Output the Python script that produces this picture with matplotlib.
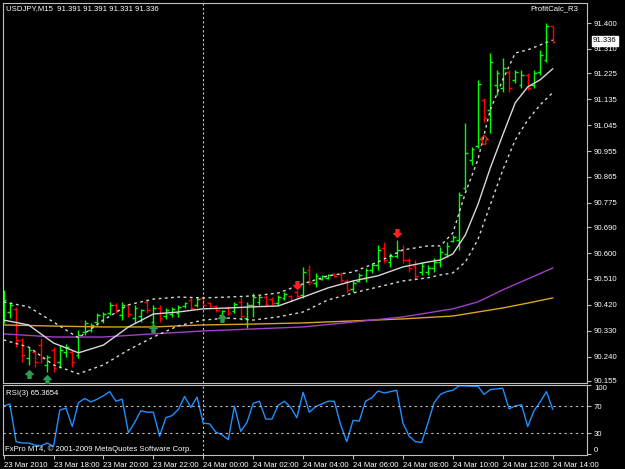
import matplotlib
matplotlib.use("Agg")
import matplotlib.pyplot as plt
from matplotlib.path import Path

# USDJPY M15 bars, 23 Mar 2010 16:00 -> 24 Mar 2010 14:00
opens = [
    90.384, 90.395, 90.405, 90.297, 90.235, 90.256, 90.280, 90.211, 90.263, 90.221,
    90.256, 90.256, 90.245, 90.325, 90.332, 90.360, 90.367, 90.391, 90.419, 90.384,
    90.419, 90.374, 90.381, 90.430, 90.360, 90.409, 90.381, 90.388, 90.391, 90.416,
    90.437, 90.419, 90.444, 90.426, 90.416, 90.384, 90.409, 90.398, 90.430, 90.374,
    90.419, 90.430, 90.447, 90.440, 90.426, 90.444, 90.451, 90.465, 90.454, 90.541,
    90.496, 90.510, 90.514, 90.527, 90.527, 90.503, 90.475, 90.503, 90.514, 90.541,
    90.559, 90.618, 90.569, 90.590, 90.611, 90.576, 90.555, 90.534, 90.534, 90.548,
    90.569, 90.597, 90.642, 90.646, 90.827, 90.924, 90.973, 91.133, 91.098, 91.185,
    91.175, 91.231, 91.203, 91.185, 91.220, 91.185, 91.231, 91.272, 91.391]
highs = [
    90.472, 90.430, 90.412, 90.304, 90.273, 90.263, 90.304, 90.245, 90.273, 90.280,
    90.284, 90.263, 90.332, 90.367, 90.357, 90.391, 90.395, 90.430, 90.426, 90.430,
    90.419, 90.419, 90.405, 90.437, 90.419, 90.419, 90.409, 90.412, 90.419, 90.430,
    90.444, 90.447, 90.451, 90.430, 90.419, 90.402, 90.416, 90.430, 90.447, 90.430,
    90.461, 90.454, 90.454, 90.447, 90.454, 90.465, 90.454, 90.472, 90.552, 90.559,
    90.531, 90.524, 90.527, 90.531, 90.534, 90.510, 90.507, 90.531, 90.548, 90.566,
    90.628, 90.639, 90.601, 90.646, 90.628, 90.583, 90.576, 90.569, 90.559, 90.583,
    90.621, 90.639, 90.663, 90.813, 91.053, 90.969, 91.203, 91.140, 91.296, 91.238,
    91.279, 91.238, 91.238, 91.238, 91.227, 91.238, 91.307, 91.400, 91.391]
lows = [
    90.357, 90.374, 90.273, 90.221, 90.211, 90.204, 90.218, 90.186, 90.186, 90.200,
    90.238, 90.204, 90.235, 90.315, 90.325, 90.350, 90.357, 90.384, 90.391, 90.367,
    90.377, 90.357, 90.360, 90.391, 90.322, 90.360, 90.370, 90.377, 90.377, 90.409,
    90.402, 90.412, 90.412, 90.412, 90.395, 90.377, 90.384, 90.391, 90.367, 90.339,
    90.377, 90.419, 90.412, 90.419, 90.419, 90.437, 90.430, 90.444, 90.444, 90.489,
    90.482, 90.507, 90.510, 90.517, 90.500, 90.465, 90.465, 90.500, 90.500, 90.531,
    90.541, 90.566, 90.552, 90.583, 90.566, 90.534, 90.507, 90.524, 90.524, 90.534,
    90.552, 90.587, 90.639, 90.611, 90.820, 90.907, 90.966, 91.056, 91.018, 91.150,
    91.161, 91.161, 91.192, 91.175, 91.168, 91.175, 91.220, 91.265, 91.331]
closes = [
    90.437, 90.419, 90.297, 90.245, 90.263, 90.221, 90.235, 90.238, 90.200, 90.263,
    90.273, 90.221, 90.315, 90.357, 90.350, 90.384, 90.388, 90.419, 90.402, 90.419,
    90.388, 90.409, 90.402, 90.402, 90.409, 90.374, 90.402, 90.405, 90.412, 90.426,
    90.409, 90.440, 90.419, 90.416, 90.402, 90.398, 90.391, 90.423, 90.381, 90.419,
    90.447, 90.447, 90.423, 90.426, 90.447, 90.458, 90.437, 90.451, 90.534, 90.500,
    90.521, 90.521, 90.524, 90.521, 90.507, 90.472, 90.496, 90.524, 90.541, 90.559,
    90.611, 90.576, 90.590, 90.611, 90.576, 90.548, 90.521, 90.555, 90.548, 90.569,
    90.604, 90.625, 90.656, 90.802, 90.949, 90.962, 91.189, 91.070, 91.265, 91.227,
    91.245, 91.175, 91.231, 91.220, 91.175, 91.227, 91.290, 91.391, 91.336]

rsi = [
    70, 73, 18, 16, 16, 13, 12, 16, 11, 64,
    67, 40, 75, 81, 76, 80, 85, 91, 77, 80,
    31, 46, 63, 61, 61, 26, 53, 56, 65, 84,
    68, 83, 45, 44, 32, 28, 21, 70, 33, 46,
    74, 77, 51, 51, 71, 77, 68, 53, 90, 61,
    69, 73, 77, 77, 43, 18, 49, 48, 77, 82,
    92, 89, 91, 93, 45, 26, 18, 17, 45, 75,
    87, 91, 93, 99.5, 99.5, 99, 99, 87, 94, 95,
    96, 66, 70, 72, 40, 63, 76, 91, 65.3654]

# envelope indicator read at sample bars
band_idx = [0, 4, 8, 12, 16, 20, 24, 28, 32, 36, 40, 44, 48, 52, 56, 60, 64, 68,
            70, 72, 74, 76, 78, 80, 82, 84, 86, 88]
mid = [90.367, 90.350, 90.287, 90.253, 90.280, 90.343, 90.388, 90.395, 90.406, 90.409,
       90.413, 90.416, 90.447, 90.479, 90.503, 90.521, 90.552, 90.569, 90.576, 90.597,
       90.663, 90.768, 90.896, 91.011, 91.123, 91.178, 91.203, 91.241]
upper = [90.430, 90.413, 90.360, 90.305, 90.367, 90.420, 90.440, 90.447, 90.444, 90.447,
         90.451, 90.461, 90.493, 90.521, 90.534, 90.569, 90.611, 90.625, 90.625, 90.670,
         90.809, 90.924, 91.098, 91.203, 91.296, 91.307, 91.324, 91.341]
lower = [90.298, 90.273, 90.211, 90.180, 90.211, 90.263, 90.308, 90.347, 90.367, 90.374,
         90.367, 90.378, 90.395, 90.437, 90.461, 90.482, 90.503, 90.514, 90.524, 90.531,
         90.569, 90.646, 90.768, 90.889, 90.994, 91.063, 91.116, 91.158]

ma_idx = [0, 8, 16, 24, 32, 40, 48, 56, 64, 72, 76, 80, 84, 88]
purple = [90.319, 90.308, 90.308, 90.319, 90.329, 90.336, 90.343, 90.360, 90.378,
          90.406, 90.430, 90.472, 90.510, 90.548]
gold = [90.350, 90.346, 90.343, 90.343, 90.350, 90.353, 90.357, 90.364, 90.371,
        90.381, 90.395, 90.409, 90.426, 90.444]

# signal arrows
buy_idx = [4, 7, 24, 35]
buy_price = [90.181, 90.161, 90.339, 90.374]
sell_idx = [47, 63]
sell_price = [90.489, 90.670]
hollow_idx = [77]
hollow_price = [90.994]

price_ticks = [91.400, 91.310, 91.225, 91.135, 91.045, 90.955, 90.865, 90.775,
               90.690, 90.600, 90.510, 90.420, 90.330, 90.240, 90.155]
time_idx = [0, 8, 16, 24, 32, 40, 48, 56, 64, 72, 80, 88]
time_labels = ["23 Mar 2010", "23 Mar 18:00", "23 Mar 20:00", "23 Mar 22:00",
               "24 Mar 00:00", "24 Mar 02:00", "24 Mar 04:00", "24 Mar 06:00",
               "24 Mar 08:00", "24 Mar 10:00", "24 Mar 12:00", "24 Mar 14:00"]

plt.rcParams['font.family'] = ['Liberation Sans', 'DejaVu Sans']
fs = 5.6
fg = 'white'
frame = '#c0c0c0'
band_col = '#d8d8d8'

fig = plt.figure(figsize=(6.25, 4.69), dpi=100, facecolor='black')
ax = fig.add_axes([3 / 625, 86 / 469, 584 / 625, 380 / 469], facecolor='black')
ax2 = fig.add_axes([3 / 625, 14 / 469, 584 / 625, 70 / 469], facecolor='black')

x = list(range(len(closes)))
cols = ['#00ff00' if c >= o else '#ff0000' for o, c in zip(opens, closes)]
ax.vlines(x, lows, highs, colors=cols, lw=1)
ax.hlines(opens, [i - 0.45 for i in x], x, colors=cols, lw=1)
ax.hlines(closes, x, [i + 0.45 for i in x], colors=cols, lw=1)

ax.plot(ma_idx, gold, color='#daa520', lw=1)
ax.plot(ma_idx, purple, color='#a040c8', lw=1)
ax.plot(band_idx, mid, color=band_col, lw=1)
ax.plot(band_idx, upper, color=band_col, lw=1, ls=(0, (2, 2.5)))
ax.plot(band_idx, lower, color=band_col, lw=1, ls=(0, (2, 2.5)))

up_arrow = Path([(0, 1), (-1, 0), (-0.4, 0), (-0.4, -1), (0.4, -1), (0.4, 0), (1, 0), (0, 1)],
                closed=True)
down_arrow = Path([(0, -1), (-1, 0), (-0.4, 0), (-0.4, 1), (0.4, 1), (0.4, 0), (1, 0), (0, -1)],
                  closed=True)
ax.scatter(buy_idx, buy_price, marker=up_arrow, s=30, color='#2e9a4e', zorder=5)
ax.scatter(sell_idx, sell_price, marker=down_arrow, s=30, color='#ff2020', zorder=5)
ax.scatter(hollow_idx, hollow_price, marker=up_arrow, s=40, facecolors='none',
           edgecolors='#ff3010', lw=0.8, zorder=5)

for a in (ax, ax2):
    a.axvline(32, color=frame, lw=0.8, ls=(0, (2, 2)))
    a.set_xlim(-0.1, 93.5)
    for s in a.spines.values():
        s.set_color(frame)
    a.yaxis.tick_right()
    a.tick_params(colors=frame, labelcolor=fg, labelsize=fs, length=3, pad=2)

ax.set_ylim(90.148, 91.470)
ax.set_yticks(price_ticks, ['%.3f' % p for p in price_ticks])
ax.set_xticks([])

ax2.plot(x, rsi, color='#1e90ff', lw=1)
ax2.axhline(70, color=frame, lw=0.8, ls=(0, (2, 3)))
ax2.axhline(30, color=frame, lw=0.8, ls=(0, (2, 3)))
ax2.set_ylim(-1.5, 100.7)
ax2.set_yticks([100, 70, 30, 0], ['100', '70', '30', '0'])
rsi_ticks = ax2.yaxis.get_major_ticks()
rsi_ticks[0].label2.set_va('top')
rsi_ticks[3].label2.set_va('bottom')
ax2.set_xticks(time_idx, time_labels, ha='left')

fig.text(6 / 625, 1 - 9 / 469, "USDJPY,M15  91.391 91.391 91.331 91.336",
         color=fg, fontsize=fs, va='center')
fig.text(578 / 625, 1 - 9 / 469, "ProfitCalc_R3", color=fg, fontsize=fs,
         va='center', ha='right')
fig.text(593 / 625, 1 - 41 / 469, "91.336", color='black', fontsize=fs, va='center',
         bbox=dict(facecolor='white', edgecolor='white', pad=0.8))
fig.text(6 / 625, 1 - 393 / 469, "RSI(3) 65.3654", color=fg, fontsize=fs, va='center')
fig.text(5 / 625, 1 - 449 / 469, "FxPro MT4, \u00a9 2001-2009 MetaQuotes Software Corp.",
         color=fg, fontsize=fs, va='center')

fig.savefig('out.png', dpi=100, facecolor='black')
